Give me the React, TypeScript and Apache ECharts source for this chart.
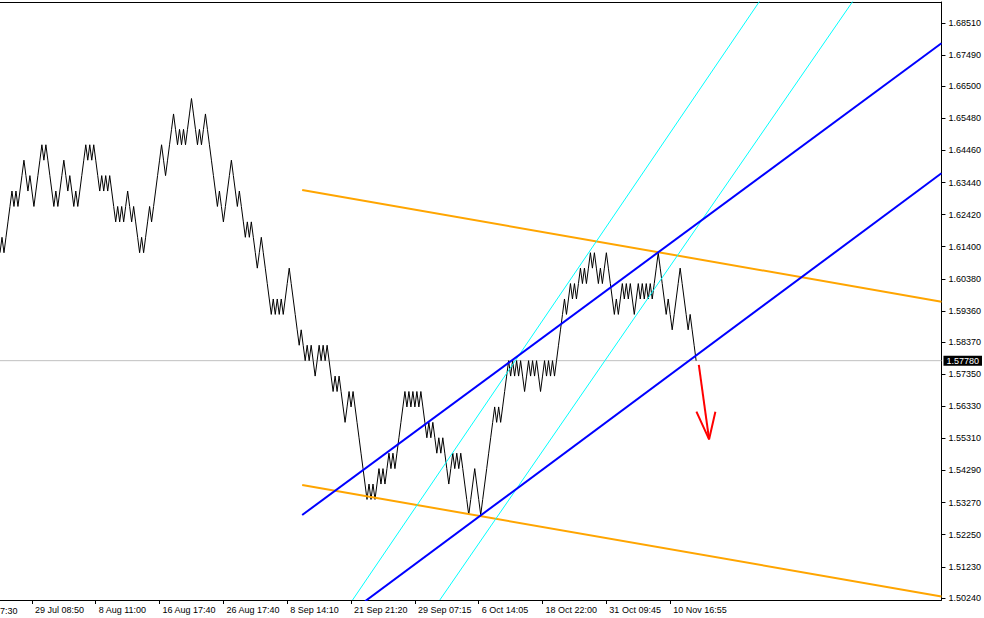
import React, { useEffect, useRef } from "react";
import * as echarts from "echarts";

// Close prices of each brick (one point per bar)
const prices: number[] = [
  1.6121, 1.6170, 1.6121, 1.6170, 1.6219, 1.6268, 1.6317, 1.6268, 1.6317, 1.6268,
  1.6317, 1.6366, 1.6415, 1.6366, 1.6317, 1.6366, 1.6317, 1.6268, 1.6317, 1.6366,
  1.6415, 1.6464, 1.6415, 1.6464, 1.6415, 1.6366, 1.6317, 1.6268, 1.6317, 1.6268,
  1.6317, 1.6366, 1.6415, 1.6366, 1.6317, 1.6366, 1.6317, 1.6268, 1.6317, 1.6268,
  1.6317, 1.6366, 1.6415, 1.6464, 1.6415, 1.6464, 1.6415, 1.6464, 1.6415, 1.6366,
  1.6317, 1.6366, 1.6317, 1.6366, 1.6317, 1.6366, 1.6317, 1.6268, 1.6219, 1.6268,
  1.6219, 1.6268, 1.6219, 1.6268, 1.6317, 1.6268, 1.6219, 1.6268, 1.6219, 1.6170,
  1.6121, 1.6170, 1.6121, 1.6170, 1.6219, 1.6268, 1.6219, 1.6268, 1.6317, 1.6366,
  1.6415, 1.6464, 1.6415, 1.6366, 1.6415, 1.6464, 1.6513, 1.6562, 1.6513, 1.6464,
  1.6513, 1.6464, 1.6513, 1.6464, 1.6513, 1.6562, 1.6611, 1.6562, 1.6513, 1.6464,
  1.6513, 1.6464, 1.6513, 1.6562, 1.6513, 1.6464, 1.6415, 1.6366, 1.6317, 1.6268,
  1.6317, 1.6268, 1.6219, 1.6268, 1.6317, 1.6366, 1.6415, 1.6366, 1.6317, 1.6268,
  1.6317, 1.6268, 1.6219, 1.6170, 1.6219, 1.6170, 1.6219, 1.6170, 1.6121, 1.6072,
  1.6121, 1.6170, 1.6121, 1.6072, 1.6023, 1.5974, 1.5925, 1.5974, 1.5925, 1.5974,
  1.5925, 1.5974, 1.5925, 1.5974, 1.6023, 1.6072, 1.6023, 1.5974, 1.5925, 1.5876,
  1.5827, 1.5876, 1.5827, 1.5778, 1.5827, 1.5778, 1.5827, 1.5778, 1.5729, 1.5778,
  1.5827, 1.5778, 1.5827, 1.5778, 1.5827, 1.5778, 1.5729, 1.5680, 1.5729, 1.5680,
  1.5729, 1.5680, 1.5631, 1.5582, 1.5631, 1.5680, 1.5631, 1.5680, 1.5631, 1.5582,
  1.5533, 1.5484, 1.5435, 1.5386, 1.5337, 1.5386, 1.5337, 1.5386, 1.5337, 1.5386,
  1.5435, 1.5386, 1.5435, 1.5386, 1.5435, 1.5484, 1.5435, 1.5484, 1.5435, 1.5484,
  1.5533, 1.5582, 1.5631, 1.5680, 1.5631, 1.5680, 1.5631, 1.5680, 1.5631, 1.5680,
  1.5631, 1.5680, 1.5631, 1.5582, 1.5533, 1.5582, 1.5533, 1.5582, 1.5533, 1.5484,
  1.5533, 1.5484, 1.5533, 1.5484, 1.5435, 1.5386, 1.5435, 1.5484, 1.5435, 1.5484,
  1.5435, 1.5484, 1.5435, 1.5386, 1.5337, 1.5288, 1.5337, 1.5386, 1.5435, 1.5386,
  1.5337, 1.5288, 1.5337, 1.5386, 1.5435, 1.5484, 1.5533, 1.5582, 1.5631, 1.5582,
  1.5631, 1.5582, 1.5631, 1.5680, 1.5729, 1.5778, 1.5729, 1.5778, 1.5729, 1.5778,
  1.5729, 1.5778, 1.5729, 1.5680, 1.5729, 1.5778, 1.5729, 1.5778, 1.5729, 1.5778,
  1.5729, 1.5680, 1.5729, 1.5778, 1.5729, 1.5778, 1.5729, 1.5778, 1.5729, 1.5778,
  1.5827, 1.5876, 1.5925, 1.5974, 1.5925, 1.5974, 1.6023, 1.5974, 1.6023, 1.5974,
  1.6023, 1.6072, 1.6023, 1.6072, 1.6023, 1.6072, 1.6121, 1.6072, 1.6121, 1.6072,
  1.6023, 1.6072, 1.6023, 1.6072, 1.6121, 1.6072, 1.6023, 1.5974, 1.5925, 1.5974,
  1.5925, 1.5974, 1.6023, 1.5974, 1.6023, 1.5974, 1.6023, 1.5974, 1.5925, 1.5974,
  1.6023, 1.5974, 1.6023, 1.5974, 1.6023, 1.5974, 1.6023, 1.5974, 1.6023, 1.6072,
  1.6121, 1.6072, 1.6023, 1.5974, 1.5925, 1.5974, 1.5925, 1.5876, 1.5925, 1.5974,
  1.6023, 1.6072, 1.6023, 1.5974, 1.5925, 1.5876, 1.5925, 1.5876, 1.5827, 1.5778,
];

const yTickValues: number[] = [
  1.6851, 1.6749, 1.665, 1.6548, 1.6446, 1.6344, 1.6242, 1.614, 1.6038, 1.5936,
  1.5837, 1.5735, 1.5633, 1.5531, 1.5429, 1.5327, 1.5225, 1.5123, 1.5024,
];

const timeTickIndex: number[] = [16, 48, 80, 112, 144, 176, 208, 240, 272, 304, 336];
const timeTickLabels: string[] = [
  "29 Jul 08:50", "8 Aug 11:00", "16 Aug 17:40", "26 Aug 17:40", "8 Sep 14:10",
  "21 Sep 21:20", "29 Sep 07:15", "6 Oct 14:05", "18 Oct 22:00", "31 Oct 09:45", "10 Nov 16:55",
];
const firstPartialLabel = "7:30";

const currentPrice = 1.5778;
const currentPriceLabel = "1.57780";

const yMin = 1.50175;
const yMax = 1.69177;
const xMax = 472;

// Trend lines: [bar index, price]
const orangeUpper = [[151.5, 1.63203], [472, 1.59654]];
const orangeLower = [[151.5, 1.53829], [472, 1.50286]];
const blueUpper = [[151.5, 1.52876], [472, 1.67865]];
const blueLower = [[183, 1.50134], [472, 1.63734]];
const cyanLeft = [[176.75, 1.50175], [381.25, 1.69241]];
const cyanRight = [[220.5, 1.50175], [428, 1.69241]];
const arrowShaft = [[350.35, 1.57643], [355.5, 1.55281]];
const arrowHead = [[349.15, 1.56159], [355.5, 1.55281], [358.65, 1.56159]];

const FONT = "'Liberation Sans', Arial, sans-serif";

export default function App() {
  const ref = useRef<HTMLDivElement>(null);

  useEffect(() => {
    if (!ref.current) return;
    const chart = echarts.init(ref.current, null, { renderer: "svg" });

    const seg = (name: string, data: number[][], color: string, width: number, z: number) => ({
      type: "line",
      name,
      data,
      symbol: "none",
      showSymbol: false,
      clip: true,
      silent: true,
      z,
      lineStyle: { color, width },
    });

    chart.setOption({
      animation: false,
      backgroundColor: "#ffffff",
      grid: { left: 0, right: 40, top: 2, bottom: 18, containLabel: false },
      xAxis: [
        {
          type: "value",
          min: 0,
          max: xMax,
          position: "bottom",
          axisLine: { show: true, onZero: false, lineStyle: { color: "#000", width: 1 } },
          axisTick: { show: true, customValues: timeTickIndex, length: 4, lineStyle: { color: "#000" } },
          axisLabel: {
            show: true,
            customValues: timeTickIndex,
            formatter: (v: number) => {
              const k = timeTickIndex.indexOf(v);
              return k >= 0 ? timeTickLabels[k] : "";
            },
            align: "left",
            margin: 5,
            padding: [0, 0, 0, 3],
            color: "#000",
            fontFamily: FONT,
            fontSize: 9,
          },
          splitLine: { show: false },
        },
        {
          type: "value",
          min: 0,
          max: xMax,
          position: "top",
          axisLine: { show: true, onZero: false, lineStyle: { color: "#000", width: 1 } },
          axisTick: { show: false },
          axisLabel: { show: false },
          splitLine: { show: false },
        },
      ],
      yAxis: {
        type: "value",
        position: "right",
        min: yMin,
        max: yMax,
        axisLine: { show: true, onZero: false, lineStyle: { color: "#000", width: 1 } },
        axisTick: { show: true, customValues: yTickValues, length: 4, lineStyle: { color: "#000" } },
        axisLabel: {
          show: true,
          customValues: yTickValues,
          formatter: (v: number) => v.toFixed(5),
          margin: 7,
          color: "#000",
          fontFamily: FONT,
          fontSize: 9,
        },
        splitLine: { show: false },
      },
      graphic: [
        {
          type: "text",
          x: 0,
          y: 606,
          silent: true,
          style: { text: firstPartialLabel, fill: "#000", fontFamily: FONT, fontSize: 9 },
        },
      ],
      series: [
        {
          type: "line",
          name: "bid",
          data: [[0, currentPrice], [xMax, currentPrice]],
          symbol: "none",
          showSymbol: false,
          silent: true,
          z: 1,
          lineStyle: { color: "#c0c0c0", width: 1 },
          endLabel: {
            show: true,
            formatter: currentPriceLabel,
            color: "#fff",
            backgroundColor: "#000",
            padding: [1, 3, 0, 3],
            distance: 2,
            fontFamily: FONT,
            fontSize: 9,
          },
        },
        {
          type: "line",
          name: "price",
          data: prices.map((p, i) => [i, p]),
          symbol: "none",
          showSymbol: false,
          silent: true,
          z: 2,
          lineStyle: { color: "#000", width: 1 },
        },
        seg("orangeUpper", orangeUpper, "#ffa500", 2, 3),
        seg("orangeLower", orangeLower, "#ffa500", 2, 3),
        seg("cyanLeft", cyanLeft, "#00ffff", 1, 3),
        seg("cyanRight", cyanRight, "#00ffff", 1, 3),
        seg("blueUpper", blueUpper, "#0000ff", 2, 4),
        seg("blueLower", blueLower, "#0000ff", 2, 4),
        seg("arrowShaft", arrowShaft, "#ff0000", 2, 5),
        seg("arrowHead", arrowHead, "#ff0000", 2, 5),
      ],
    });

    return () => chart.dispose();
  }, []);

  return (
    <div
      ref={ref}
      style={{ position: "absolute", left: 0, top: 0, width: 984, height: 618 }}
    />
  );
}
